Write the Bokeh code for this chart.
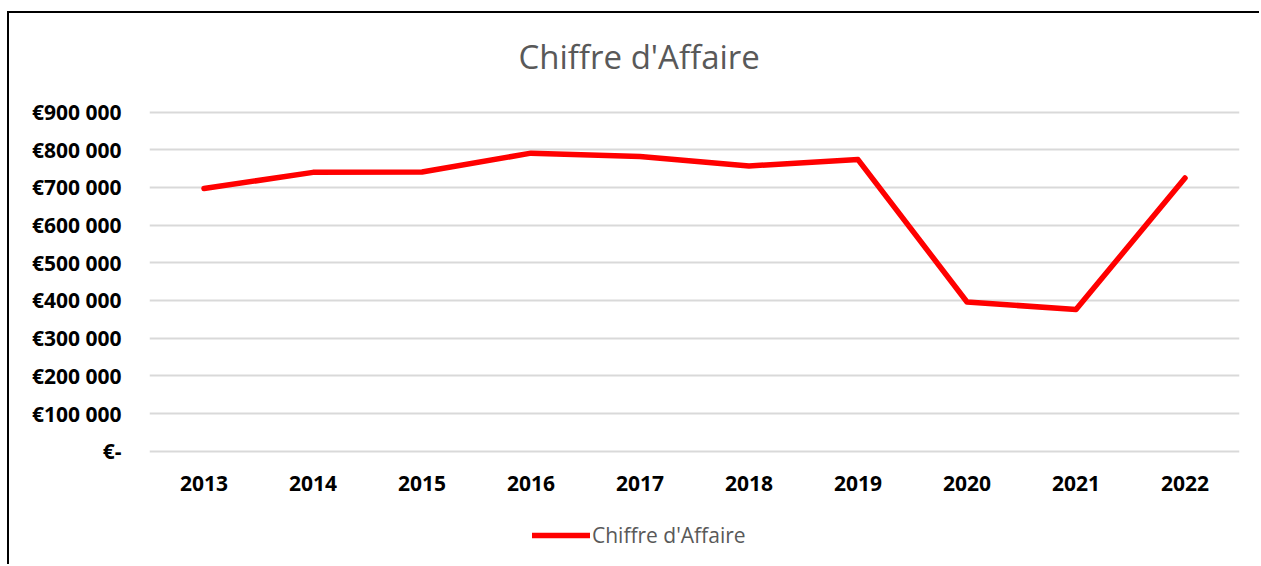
from bokeh.plotting import figure
from bokeh.models import FixedTicker, Legend, LegendItem, Title
from bokeh.embed import file_html
from bokeh.resources import INLINE

years = ["2013", "2014", "2015", "2016", "2017", "2018", "2019", "2020", "2021", "2022"]
revenue = [697000, 740000, 741000, 791000, 782000, 757000, 774000, 396000, 376000, 725000]
y_ticks = [0, 100000, 200000, 300000, 400000, 500000, 600000, 700000, 800000, 900000]
y_tick_labels = ["€-", "€100 000", "€200 000", "€300 000", "€400 000", "€500 000",
                 "€600 000", "€700 000", "€800 000", "€900 000"]
title_text = "Chiffre d'Affaire"
series_name = "Chiffre d'Affaire"

p = figure(x_range=years, y_range=(-306000, 944000), width=1252, height=553,
           output_backend="svg", toolbar_location=None,
           min_border_left=140, min_border_right=22, min_border_top=82, min_border_bottom=0)
p.margin = (11, 0, 0, 7)
p.styles = {"border-top": "2px solid black", "border-left": "2px solid black"}
p.outline_line_color = None
p.background_fill_color = "white"
p.border_fill_color = "white"
p.x_range.range_padding = 0

t = Title(text=title_text, align="left", text_font="Open Sans", text_font_size="33px",
          text_font_style="normal", text_color="#595959", offset=369, standoff=33)
p.add_layout(t, "above")

r = p.line(x=years, y=revenue, line_color="#ff0000", line_width=5.5,
           line_cap="round", line_join="round")

p.yaxis.ticker = FixedTicker(ticks=y_ticks)
p.yaxis.major_label_overrides = {v: s for v, s in zip(y_ticks, y_tick_labels)}
p.xaxis.fixed_location = 0
for ax in (p.xaxis[0], p.yaxis[0]):
    ax.axis_line_color = None
    ax.major_tick_line_color = None
    ax.minor_tick_line_color = None
    ax.major_label_text_font = "Open Sans"
    ax.major_label_text_font_size = "21px"
    ax.major_label_text_font_style = "bold"
    ax.major_label_text_color = "black"
p.yaxis.major_label_standoff = 22
p.xaxis.major_label_standoff = 19

p.xgrid.grid_line_color = None
p.ygrid.grid_line_color = "#d9d9d9"
p.ygrid.grid_line_width = 2

legend = Legend(items=[LegendItem(label=series_name, renderers=[r])],
                location=(383, 17), orientation="horizontal",
                label_text_font="Open Sans", label_text_font_size="21px",
                label_text_color="#595959", glyph_width=58, glyph_height=20,
                label_height=20, label_standoff=2, padding=0, margin=0, spacing=0,
                border_line_color=None, background_fill_alpha=0)
p.add_layout(legend, "center")

open("out.html", "w").write(file_html(p, INLINE))
